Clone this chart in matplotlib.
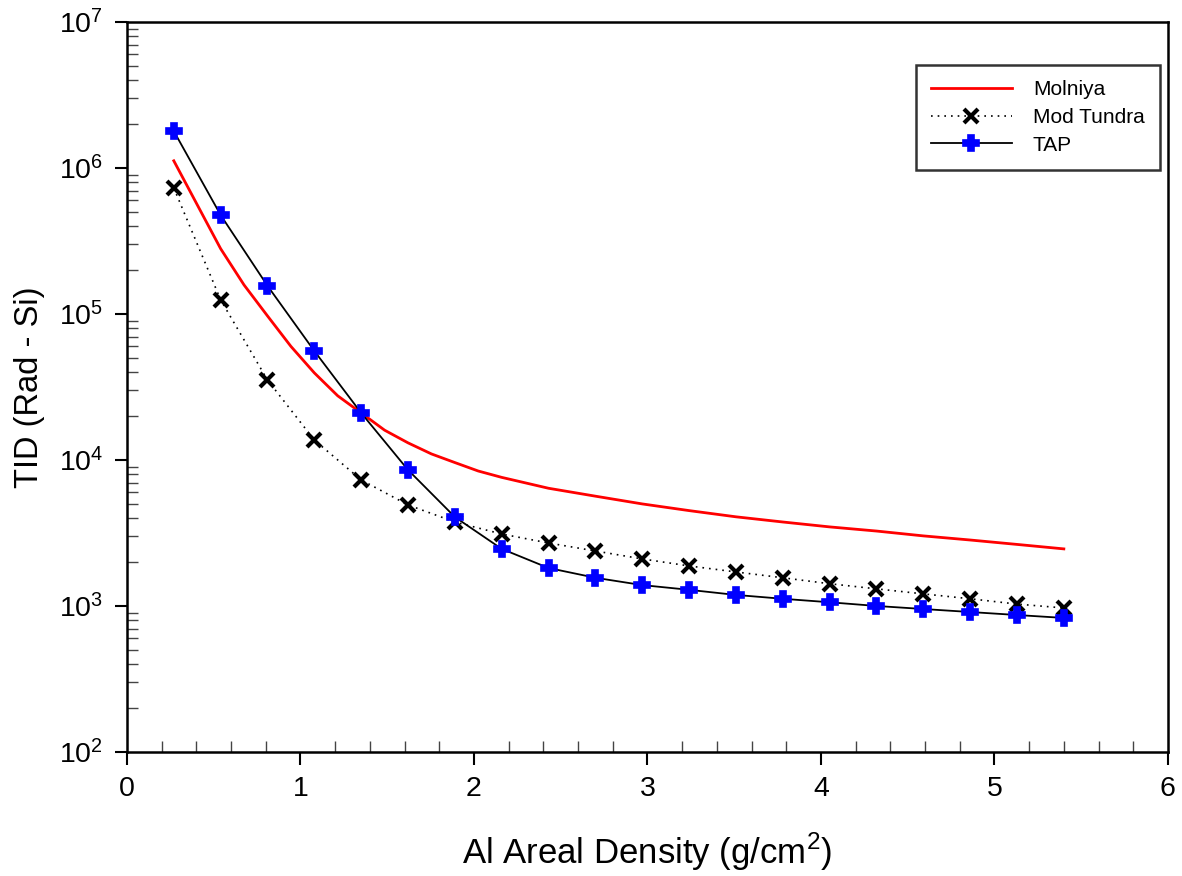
import numpy as np
import matplotlib.pyplot as plt
from matplotlib.ticker import LogLocator, MultipleLocator, NullFormatter

plt.rcParams['font.family'] = ['Liberation Sans', 'DejaVu Sans']
plt.rcParams['mathtext.fontset'] = 'custom'
plt.rcParams['mathtext.rm'] = 'Liberation Sans'

# areal density (g/cm2)
x = np.arange(1, 21) * 0.27

# Molniya is a plain line, read a bit finer near the knee
molniya_x = [0.27, 0.405, 0.54, 0.675, 0.81, 0.945, 1.08, 1.215, 1.35, 1.485, 1.62, 1.755,
             1.89, 2.025, 2.16, 2.43, 2.70, 2.97, 3.24, 3.51, 3.78, 4.05, 4.32, 4.59,
             4.86, 5.13, 5.40]
molniya = [1.12e6, 5.6e5, 2.8e5, 1.58e5, 9.7e4, 6.0e4, 3.95e4, 2.75e4, 2.1e4, 1.6e4, 1.31e4,
           1.1e4, 9.6e3, 8.4e3, 7.6e3, 6.4e3, 5.65e3, 5.0e3, 4.5e3, 4.08e3, 3.76e3, 3.48e3,
           3.26e3, 3.02e3, 2.83e3, 2.64e3, 2.46e3]

mod_tundra = [7.3e5, 1.25e5, 3.53e4, 1.37e4, 7.3e3, 4.92e3, 3.76e3, 3.11e3, 2.70e3, 2.38e3,
              2.10e3, 1.88e3, 1.71e3, 1.56e3, 1.42e3, 1.31e3, 1.21e3, 1.12e3, 1.03e3, 969]

tap = [1.79e6, 4.76e5, 1.56e5, 5.58e4, 2.10e4, 8.55e3, 4.07e3, 2.46e3, 1.82e3, 1.56e3,
       1.39e3, 1.29e3, 1.19e3, 1.12e3, 1.06e3, 1.0e3, 953, 909, 867, 828]

fig = plt.figure(figsize=(11.82, 8.76), dpi=100)
ax = fig.add_axes([0.1074, 0.1416, 0.8807, 0.8333])

ax.plot(molniya_x, molniya, color='red', lw=2, label='Molniya')
ax.plot(x, mod_tundra, color='black', lw=1.2, ls=(0, (1, 3)), marker='x',
        ms=10, mew=3, label='Mod Tundra')
ax.plot(x, tap, color='black', lw=1.3, marker='P', ms=11.5, mfc='blue', mec='blue',
        mew=1.2, label='TAP')

ax.set_yscale('log')
ax.set_xlim(0, 6)
ax.set_ylim(1e2, 1e7)
ax.xaxis.set_major_locator(MultipleLocator(1))
ax.xaxis.set_minor_locator(MultipleLocator(0.2))
ax.yaxis.set_major_locator(LogLocator(base=10, numticks=10))
ax.yaxis.set_minor_locator(LogLocator(base=10, subs=np.arange(2, 10), numticks=10))
ax.yaxis.set_minor_formatter(NullFormatter())

ax.tick_params(which='major', direction='out', length=9, width=1.5, labelsize=20.5, pad=8)
ax.tick_params(which='minor', direction='in', length=8, width=1, color='#444444')
for s in ax.spines.values():
    s.set_linewidth(1.8)

ax.set_xlabel('Al Areal Density (g/cm$^2$)', fontsize=25, labelpad=21)
ax.set_ylabel('TID (Rad - Si)', fontsize=23.5, labelpad=10)

leg = ax.legend(loc='upper right', bbox_to_anchor=(0.992, 0.941), borderaxespad=0,
                fontsize=15, frameon=True, fancybox=False, edgecolor='black',
                handlelength=3.9, borderpad=0.72, labelspacing=0.42, handletextpad=1.0)
leg.get_frame().set_linewidth(1.8)

fig.savefig('out.png', dpi=100)
